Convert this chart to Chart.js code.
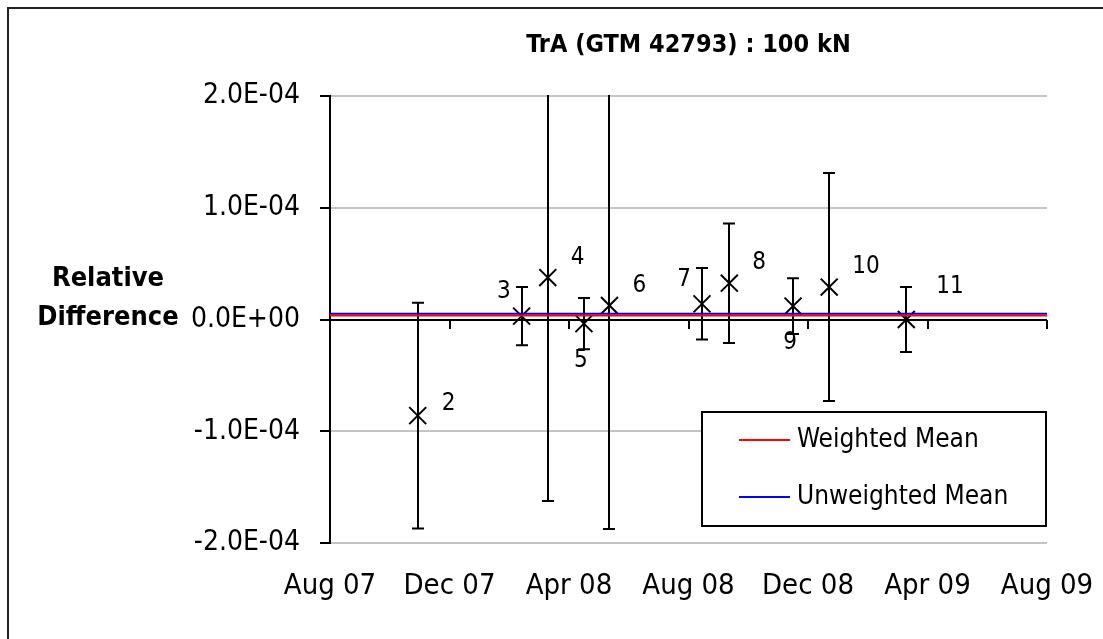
<!DOCTYPE html>
<html>
<head>
<meta charset="utf-8">
<title>TrA (GTM 42793) : 100 kN</title>
<script src="https://cdn.jsdelivr.net/npm/chart.js@4/dist/chart.umd.min.js"></script>
<style>
  html, body { margin: 0; padding: 0; background: #fff; }
  #wrap { position: relative; width: 1103px; height: 639px; }
</style>
</head>
<body>
<div id="wrap"><canvas id="traChart" width="1103" height="639"></canvas></div>
<script>
const FONT = '"DejaVu Sans Condensed", "DejaVu Sans", sans-serif';

// measurement dates, relative differences and their uncertainties
const pointNames = ['2', '3', '4', '5', '6', '7', '8', '9', '10', '11'];
const dates = ['2007-10-30', '2008-02-13', '2008-03-10', '2008-04-16', '2008-05-12',
               '2008-08-15', '2008-09-12', '2008-11-16', '2008-12-23', '2009-03-10'];
const relDiff = [-0.86e-4, 0.03e-4, 0.375e-4, -0.037e-4, 0.125e-4,
                 0.14e-4, 0.325e-4, 0.12e-4, 0.29e-4, 0.0];
const uncert = [1.01e-4, 0.26e-4, 2.0e-4, 0.23e-4, 2.0e-4,
                0.32e-4, 0.535e-4, 0.25e-4, 1.02e-4, 0.29e-4];
// where each point's number sits next to its marker
const labelSide = ['rightLow', 'left', 'right', 'below', 'right',
                   'left', 'right', 'below', 'right', 'rightHigh'];

const weightedMean = 0.035e-4;
const unweightedMean = 0.052e-4;

const tickLabels = ['Aug 07', 'Dec 07', 'Apr 08', 'Aug 08', 'Dec 08', 'Apr 09', 'Aug 09'];
const xStart = 7;   // Aug 2007, counted in months from Jan 2007
const xStep = 4;

function monthValue(s) {
  const [y, m, d] = s.split('-').map(Number);
  const dim = new Date(y, m, 0).getDate();
  return (y - 2007) * 12 + (m - 1) + (d - 1) / dim;
}

function sci(v) {
  if (Math.abs(v) < 1e-12) return '0.0E+00';
  let e = Math.floor(Math.log10(Math.abs(v)) + 1e-9);
  let m = v / Math.pow(10, e);
  const sign = e < 0 ? '-' : '+';
  return m.toFixed(1) + 'E' + sign + String(Math.abs(e)).padStart(2, '0');
}

const xEnd = xStart + xStep * (tickLabels.length - 1);
const points = dates.map((d, i) => ({ x: monthValue(d), y: relDiff[i] }));

// label offsets from the marker centre, per placement
const labelOffsets = {
  right:     { align: 'left',   dx: 23,  dy: -20 },
  rightLow:  { align: 'left',   dx: 24,  dy: -12 },
  rightHigh: { align: 'left',   dx: 30,  dy: -33 },
  left:      { align: 'right',  dx: -11, dy: -24 },
  below:     { align: 'center', dx: -3,  dy: 37 }
};

const errorBars = {
  id: 'errorBars',
  beforeDatasetsDraw(chart) {
    const { ctx, chartArea: a, scales: { x, y } } = chart;
    ctx.save();
    ctx.beginPath();
    ctx.rect(a.left, a.top - 1, a.right - a.left, a.bottom - a.top + 2);
    ctx.clip();
    ctx.strokeStyle = '#000';
    ctx.lineWidth = 2;
    points.forEach((p, i) => {
      const px = Math.round(x.getPixelForValue(p.x));
      const top = y.getPixelForValue(p.y + uncert[i]);
      const bot = y.getPixelForValue(p.y - uncert[i]);
      ctx.beginPath();
      ctx.moveTo(px, top); ctx.lineTo(px, bot);
      ctx.moveTo(px - 6, top); ctx.lineTo(px + 6, top);
      ctx.moveTo(px - 6, bot); ctx.lineTo(px + 6, bot);
      ctx.stroke();
    });
    ctx.restore();
  }
};

const decorations = {
  id: 'decorations',
  beforeDraw(chart) {
    const { ctx } = chart;
    ctx.save();
    ctx.strokeStyle = '#222';
    ctx.lineWidth = 2;
    ctx.strokeRect(8, 8, chart.width + 20, chart.height + 20);
    ctx.restore();
  },
  afterDraw(chart) {
    const { ctx, chartArea: a, scales: { x, y } } = chart;
    ctx.save();

    // tick marks hanging from the zero line
    const zeroY = Math.round(y.getPixelForValue(0));
    ctx.strokeStyle = '#000';
    ctx.lineWidth = 2;
    x.ticks.forEach(t => {
      const px = Math.round(x.getPixelForValue(t.value));
      ctx.beginPath();
      ctx.moveTo(px, zeroY);
      ctx.lineTo(px, zeroY + 9);
      ctx.stroke();
    });

    // point numbers
    ctx.fillStyle = '#000';
    ctx.font = '24px ' + FONT;
    ctx.textBaseline = 'middle';
    points.forEach((p, i) => {
      const px = x.getPixelForValue(p.x);
      const py = y.getPixelForValue(p.y);
      const o = labelOffsets[labelSide[i]];
      ctx.textAlign = o.align;
      ctx.fillText(pointNames[i], px + o.dx, py + o.dy);
    });

    // title
    ctx.font = 'bold 25px ' + FONT;
    ctx.textAlign = 'center';
    ctx.fillText('TrA (GTM 42793) : 100 kN', (a.left + a.right) / 2, 45);

    // axis title, written level
    ctx.font = 'bold 27px ' + FONT;
    ctx.fillText('Relative', 108, 279);
    ctx.fillText('Difference', 108, 318);

    // legend box
    const bw = 344, bh = 114;
    const bx = a.right - 1 - bw, by = a.bottom - 17 - bh;
    ctx.fillStyle = '#fff';
    ctx.fillRect(bx, by, bw, bh);
    ctx.strokeStyle = '#000';
    ctx.lineWidth = 2;
    ctx.strokeRect(bx, by, bw, bh);
    ctx.font = '26px ' + FONT;
    ctx.textAlign = 'left';
    [1, 2].forEach((di, row) => {
      const ds = chart.data.datasets[di];
      const ly = by + 28 + row * 57;
      ctx.strokeStyle = ds.borderColor;
      ctx.beginPath();
      ctx.moveTo(bx + 37, ly);
      ctx.lineTo(bx + 88, ly);
      ctx.stroke();
      ctx.fillStyle = '#000';
      ctx.fillText(ds.label, bx + 95, ly);
    });

    ctx.restore();
  }
};

new Chart(document.getElementById('traChart'), {
  type: 'scatter',
  data: {
    datasets: [
      {
        label: 'Measurements',
        data: points,
        pointStyle: 'crossRot',
        pointRadius: 12,
        pointHoverRadius: 12,
        borderColor: '#000',
        backgroundColor: '#000',
        pointBorderWidth: 2,
        showLine: false,
        order: 2
      },
      {
        label: 'Weighted Mean',
        data: [{ x: xStart, y: weightedMean }, { x: xEnd, y: weightedMean }],
        borderColor: '#ff0000',
        borderWidth: 2,
        pointRadius: 0,
        showLine: true,
        order: 1
      },
      {
        label: 'Unweighted Mean',
        data: [{ x: xStart, y: unweightedMean }, { x: xEnd, y: unweightedMean }],
        borderColor: '#0000ff',
        borderWidth: 2,
        pointRadius: 0,
        showLine: true,
        order: 1
      }
    ]
  },
  options: {
    responsive: false,
    animation: false,
    layout: { autoPadding: false, padding: { top: 96, right: 56, left: 0, bottom: 0 } },
    plugins: {
      legend: { display: false },
      title: { display: false },
      tooltip: { enabled: false }
    },
    scales: {
      x: {
        type: 'linear',
        min: xStart,
        max: xEnd,
        afterFit(s) { s.height = 96; s.paddingRight = 0; s.paddingLeft = 0; },
        border: { display: false },
        grid: { display: false },
        ticks: {
          stepSize: xStep,
          padding: 18,
          color: '#000',
          font: { family: FONT, size: 29 },
          callback: v => tickLabels[Math.round((v - xStart) / xStep)]
        }
      },
      y: {
        min: -2e-4,
        max: 2e-4,
        afterFit(s) { s.width = 330; },
        border: { display: true, color: '#000', width: 2 },
        grid: {
          color: c => (c.tick && Math.abs(c.tick.value) < 1e-12) ? '#000' : '#c4c4c4',
          lineWidth: 2,
          tickColor: '#000',
          tickLength: 10
        },
        ticks: {
          stepSize: 1e-4,
          padding: 20,
          color: '#000',
          font: { family: FONT, size: 28 },
          callback: v => sci(v)
        }
      }
    }
  },
  plugins: [errorBars, decorations]
});
</script>
</body>
</html>
